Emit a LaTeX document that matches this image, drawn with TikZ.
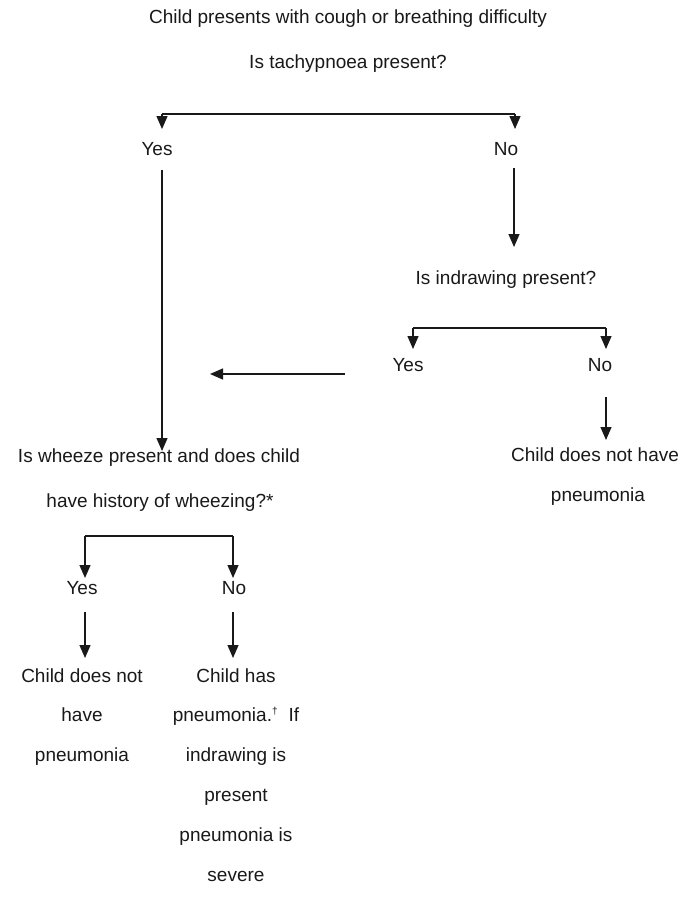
\documentclass[tikz,border=0pt]{standalone}
\usepackage{fontspec}
\setmainfont{Liberation Sans}
\usetikzlibrary{arrows.meta}
\tikzset{
  txt/.style={inner sep=0pt, anchor=base, font=\fontsize{19}{40}\selectfont, text=black!90},
  ln/.style={line width=1.3pt, black!90},
  arr/.style={ln, -{Triangle[width=11pt,length=13pt]}}
}
\begin{document}
\begin{tikzpicture}[x=1pt,y=-1pt]
\useasboundingbox (0,0) rectangle (698,899);
\fill[white] (0,0) rectangle (698,899);
% texts
\node[txt] (t0) at (348,24) {Child presents with cough or breathing difficulty};
\node[txt] (q1) at (348,69) {Is tachypnoea present?};
\node[txt] (yes1) at (157,155) {Yes};
\node[txt] (no1) at (506,155) {No};
\node[txt] (q2) at (506,284) {Is indrawing present?};
\node[txt] (yes2) at (408,371) {Yes};
\node[txt] (no2) at (600,371) {No};
\node[txt] (n2a) at (595,461) {Child does not have};
\node[txt] (n2b) at (598,501) {pneumonia};
\node[txt] (q3a) at (159,462) {Is wheeze present and does child};
\node[txt] (q3b) at (160,507) {have history of wheezing?*};
\node[txt] (yes3) at (82,594) {Yes};
\node[txt] (no3) at (234,594) {No};
\node[txt] (l1a) at (82,682) {Child does not};
\node[txt] (l1b) at (82,721) {have};
\node[txt] (l1c) at (82,761) {pneumonia};
\node[txt] (l2a) at (236,682) {Child has};
\node[txt] (l2b) at (236,721) {pneumonia.\textsuperscript{\fontsize{10}{10}\selectfont\dag}\ \ If};
\node[txt] (l2c) at (236,761) {indrawing is};
\node[txt] (l2d) at (236,801) {present};
\node[txt] (l2e) at (236,841) {pneumonia is};
\node[txt] (l2f) at (236,881) {severe};
% coordinates
\coordinate (b1l) at (162,114); \coordinate (b1r) at (515,114);
\coordinate (b1lt) at (162,129); \coordinate (b1rt) at (515,129);
\coordinate (y1s) at (162,170); \coordinate (y1t) at (162,451);
\coordinate (n1s) at (514,168); \coordinate (n1t) at (514,247);
\coordinate (b2l) at (413,328); \coordinate (b2r) at (606,328);
\coordinate (b2lt) at (413,349); \coordinate (b2rt) at (606,349);
\coordinate (y2s) at (345,374); \coordinate (y2t) at (210,374);
\coordinate (n2s) at (606,397); \coordinate (n2t) at (606,440);
\coordinate (b3l) at (85,536); \coordinate (b3r) at (233,536);
\coordinate (b3lt) at (85,578); \coordinate (b3rt) at (233,578);
\coordinate (y3s) at (85,612); \coordinate (y3t) at (85,658);
\coordinate (n3s) at (233,612); \coordinate (n3t) at (233,658);
% connectors
\draw[ln] (b1l) -- (b1r);
\draw[arr] (b1l) -- (b1lt);
\draw[arr] (b1r) -- (b1rt);
\draw[arr] (y1s) -- (y1t);
\draw[arr] (n1s) -- (n1t);
\draw[ln] (b2l) -- (b2r);
\draw[arr] (b2l) -- (b2lt);
\draw[arr] (b2r) -- (b2rt);
\draw[arr] (y2s) -- (y2t);
\draw[arr] (n2s) -- (n2t);
\draw[ln] (b3l) -- (b3r);
\draw[arr] (b3l) -- (b3lt);
\draw[arr] (b3r) -- (b3rt);
\draw[arr] (y3s) -- (y3t);
\draw[arr] (n3s) -- (n3t);
\end{tikzpicture}
\end{document}
